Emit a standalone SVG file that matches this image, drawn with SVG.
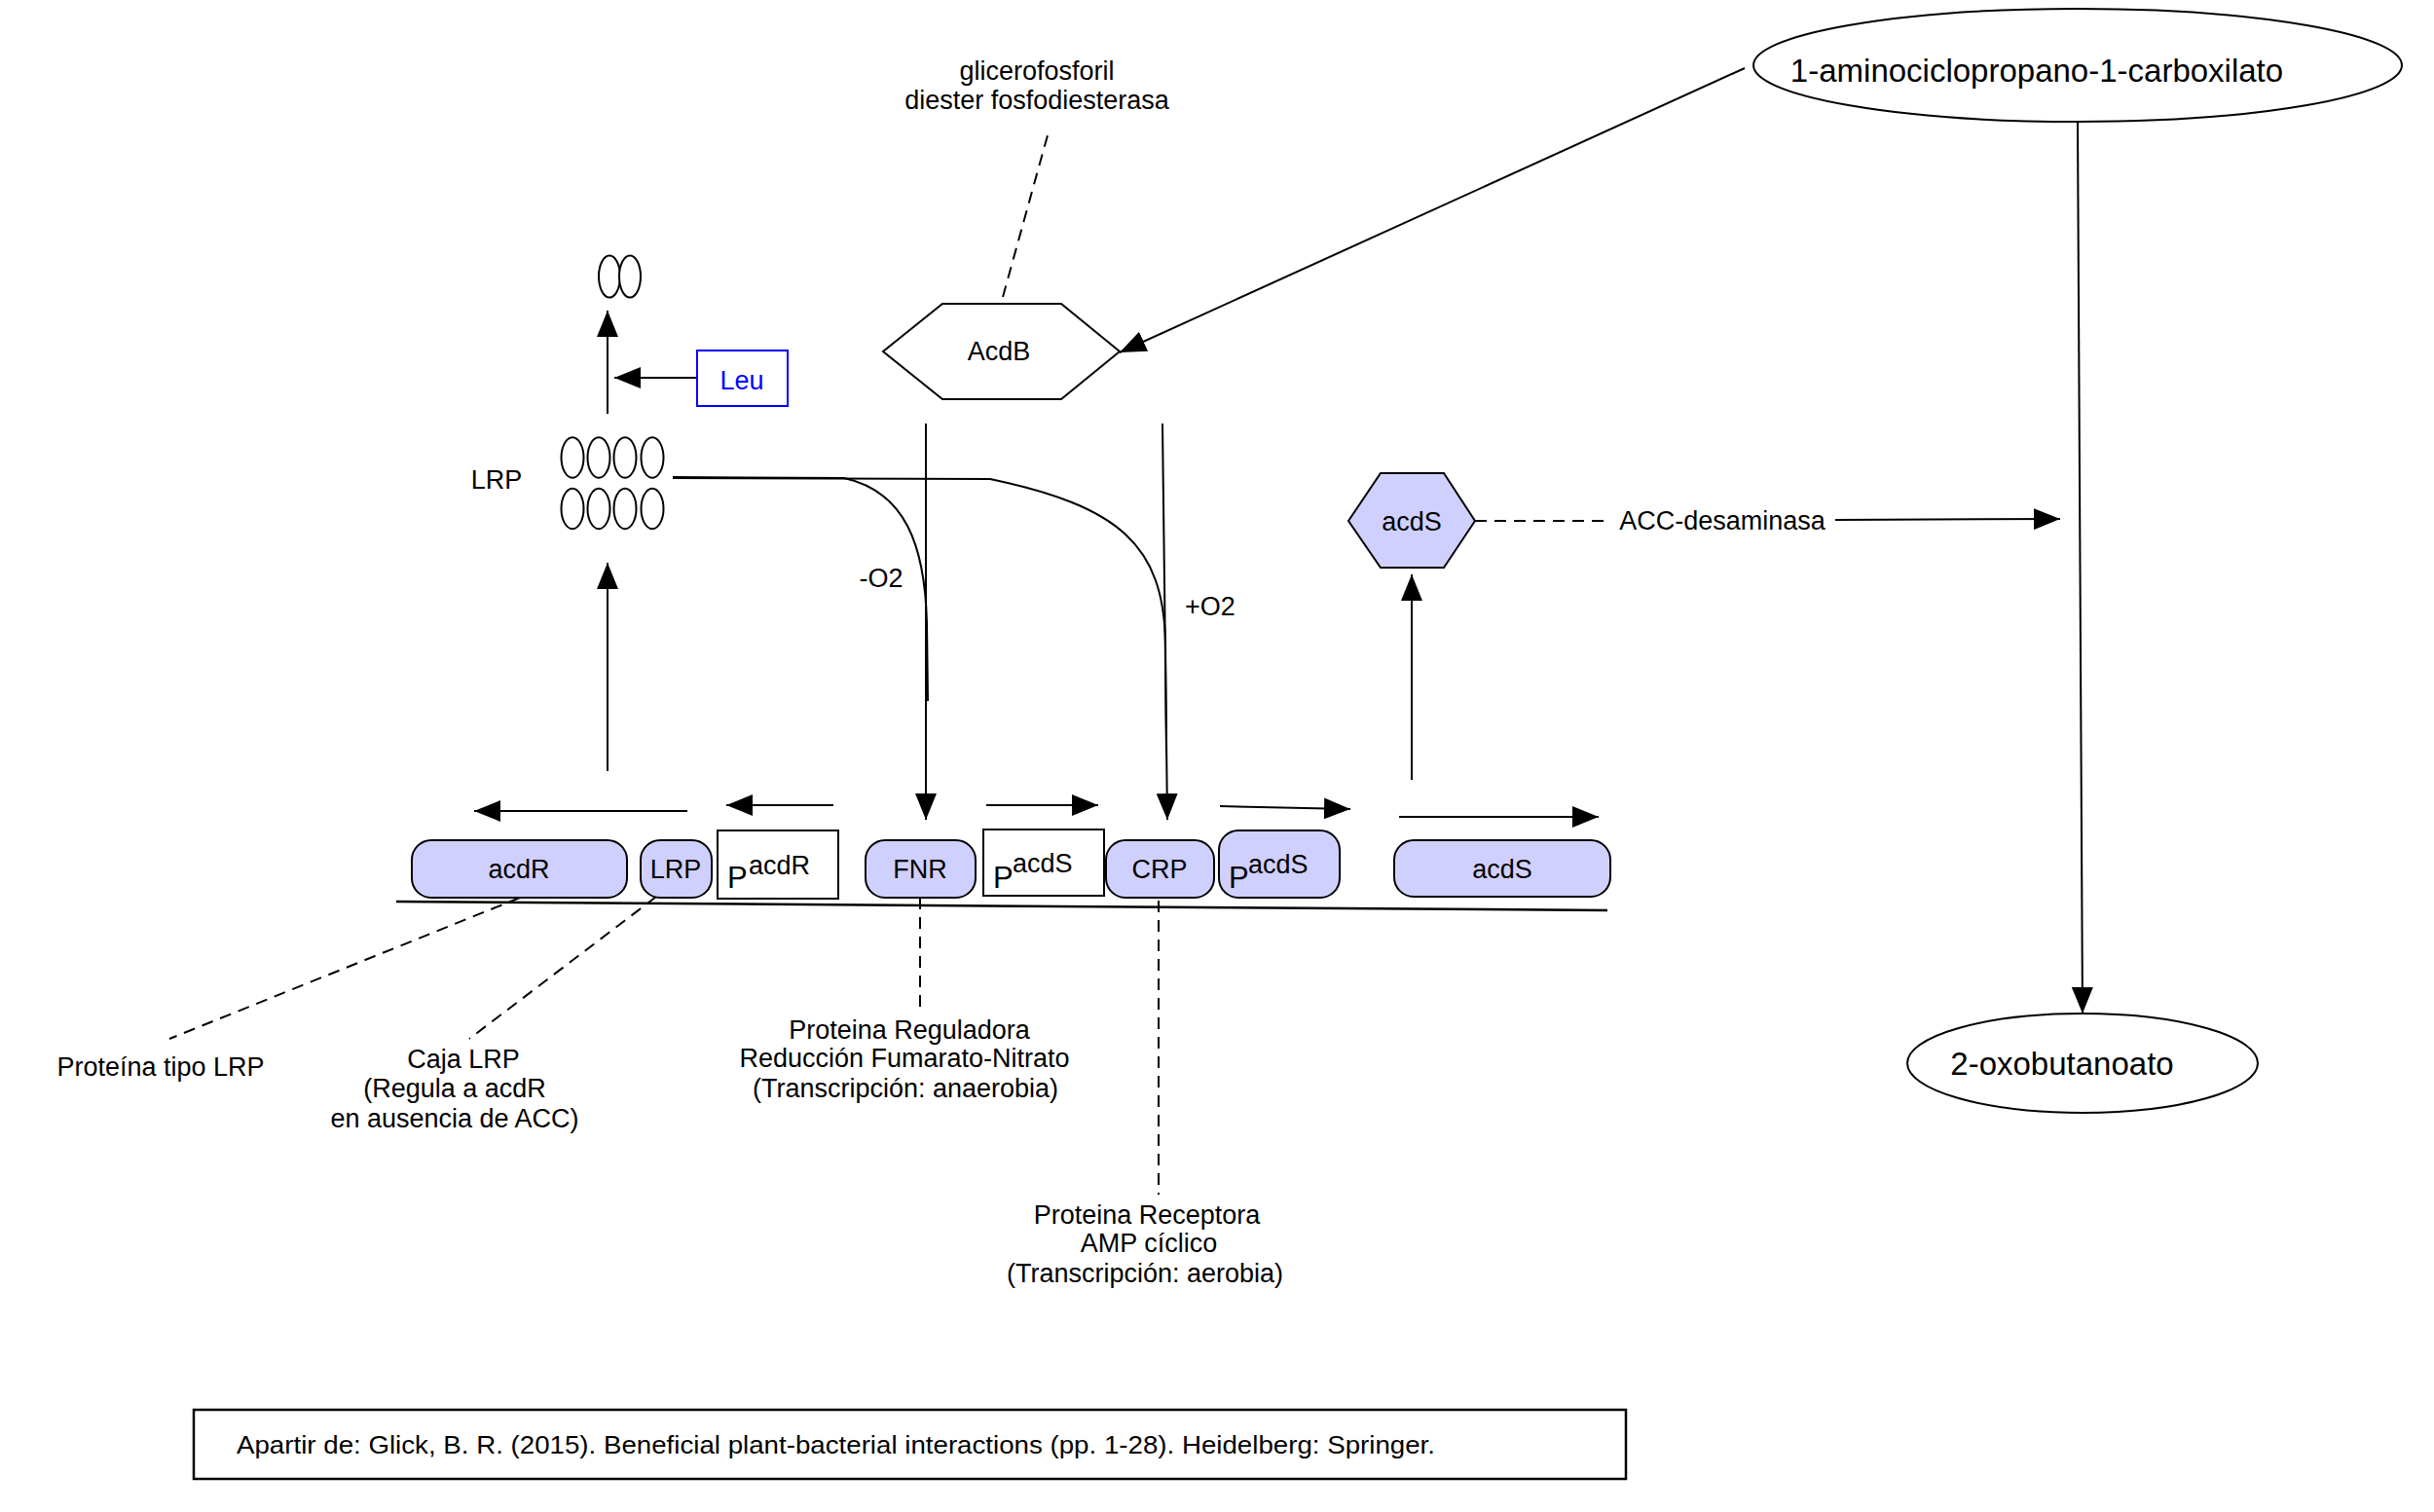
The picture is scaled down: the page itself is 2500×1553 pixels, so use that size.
<svg xmlns="http://www.w3.org/2000/svg" width="2500" height="1553" viewBox="0 0 2500 1553">
<style>
text{font-family:"Liberation Sans",Arial,sans-serif;fill:#000}
.l{font-size:27px;text-anchor:middle}
.big{font-size:33px}
.ln{fill:none;stroke:#000;stroke-width:2}
.dash{fill:none;stroke:#000;stroke-width:2;stroke-dasharray:12,8}
.gene{fill:#d0d0ff;stroke:#000;stroke-width:2}
.box{fill:#fff;stroke:#000;stroke-width:2}
.ov{fill:#fff;stroke:#000;stroke-width:2}
</style>
<defs>
<marker id="ah" markerUnits="userSpaceOnUse" markerWidth="28" markerHeight="22" refX="27" refY="11" orient="auto">
<path d="M0,0 L27,11 L0,22 z" fill="#000"/>
</marker>
</defs>
<rect width="2500" height="1553" fill="#fff"/>

<g id="connectors">
<line class="ln" x1="1792" y1="70" x2="1150" y2="362" marker-end="url(#ah)"/>
<line class="ln" x1="2134" y1="126" x2="2139" y2="1041" marker-end="url(#ah)"/>
<line class="dash" x1="1030" y1="305" x2="1076" y2="139"/>
<line class="ln" x1="716" y1="388" x2="631" y2="388" marker-end="url(#ah)"/>
<line class="ln" x1="624" y1="425" x2="624" y2="319" marker-end="url(#ah)"/>
<line class="ln" x1="624" y1="792" x2="624" y2="578" marker-end="url(#ah)"/>
<path class="ln" d="M691,490 L867,491 C930,505 950,560 952,640 L953,720"/>
<path class="ln" d="M691,491 L1017,492 C1150,520 1195,560 1197,660 L1198,775"/>
<line class="ln" x1="951" y1="435" x2="951" y2="842" marker-end="url(#ah)"/>
<line class="ln" x1="1194" y1="435" x2="1199" y2="842" marker-end="url(#ah)"/>
<line class="ln" x1="706" y1="833" x2="487" y2="833" marker-end="url(#ah)"/>
<line class="ln" x1="856" y1="827" x2="746" y2="827" marker-end="url(#ah)"/>
<line class="ln" x1="1013" y1="827" x2="1128" y2="827" marker-end="url(#ah)"/>
<line class="ln" x1="1253" y1="828" x2="1387" y2="831" marker-end="url(#ah)"/>
<line class="ln" x1="1437" y1="839" x2="1642" y2="839" marker-end="url(#ah)"/>
<line class="ln" x1="1450" y1="801" x2="1450" y2="590" marker-end="url(#ah)"/>
<line class="dash" x1="1515" y1="535" x2="1655" y2="535"/>
<line class="ln" x1="1885" y1="534" x2="2116" y2="533" marker-end="url(#ah)"/>
<line class="ln" x1="407" y1="926" x2="1651" y2="935" style="stroke-width:2.5"/>
<line class="dash" x1="534" y1="922" x2="174" y2="1067"/>
<line class="dash" x1="674" y1="921" x2="482" y2="1067"/>
<line class="dash" x1="945" y1="922" x2="945" y2="1037"/>
<line class="dash" x1="1190" y1="925" x2="1190" y2="1227"/>
</g>

<g id="acc">
<ellipse class="ov" cx="2134" cy="67" rx="333" ry="58"/>
<text class="big" x="2092" y="84" text-anchor="middle">1-aminociclopropano-1-carboxilato</text>
</g>
<g id="oxobutanoato">
<ellipse class="ov" cx="2139" cy="1092" rx="180" ry="51"/>
<text class="big" x="2118" y="1104" text-anchor="middle">2-oxobutanoato</text>
</g>
<g id="glicero">
<text class="l" x="1065" y="82">glicerofosforil</text>
<text class="l" x="1065" y="112">diester fosfodiesterasa</text>
</g>
<g id="AcdB">
<polygon class="box" points="907,361 968,312 1090,312 1150,361 1090,410 968,410"/>
<text class="l" x="1026" y="370">AcdB</text>
</g>
<g id="Leu">
<rect x="716" y="360" width="93" height="57" fill="#fff" stroke="#0000ff" stroke-width="2"/>
<text class="l" x="762" y="400" style="fill:#0000ff">Leu</text>
</g>
<g id="dimer">
<ellipse class="ov" cx="626" cy="284" rx="11" ry="21.5"/>
<ellipse class="ov" cx="647" cy="284" rx="11" ry="21.5"/>
</g>
<g id="octamer">
<ellipse class="ov" cx="588" cy="470" rx="11.5" ry="20.7"/>
<ellipse class="ov" cx="615" cy="470" rx="11.5" ry="20.7"/>
<ellipse class="ov" cx="642" cy="470" rx="11.5" ry="20.7"/>
<ellipse class="ov" cx="670" cy="470" rx="11.5" ry="20.7"/>
<ellipse class="ov" cx="588" cy="522.5" rx="11.5" ry="20.7"/>
<ellipse class="ov" cx="615" cy="522.5" rx="11.5" ry="20.7"/>
<ellipse class="ov" cx="642" cy="522.5" rx="11.5" ry="20.7"/>
<ellipse class="ov" cx="670" cy="522.5" rx="11.5" ry="20.7"/>
<text class="l" x="510" y="502">LRP</text>
</g>
<g id="o2labels">
<text class="l" x="905" y="603">-O2</text>
<text class="l" x="1243" y="632">+O2</text>
</g>
<g id="acdS-protein">
<polygon class="gene" points="1385,535 1418,486 1483,486 1515,535 1483,583 1418,583"/>
<text class="l" x="1450" y="545">acdS</text>
</g>
<g id="acc-desaminasa">
<text class="l" x="1769" y="544">ACC-desaminasa</text>
</g>

<g id="gene-acdR">
<rect class="gene" x="423" y="863" width="221" height="59" rx="20"/>
<text class="l" x="533" y="902">acdR</text>
</g>
<g id="gene-LRP">
<rect class="gene" x="658" y="863" width="73" height="59" rx="20"/>
<text class="l" x="694" y="902">LRP</text>
</g>
<g id="PacdR">
<rect class="box" x="737" y="853" width="124" height="70"/>
<text x="747" y="912" style="font-size:31px">P</text>
<text x="769" y="898" style="font-size:27px">acdR</text>
</g>
<g id="gene-FNR">
<rect class="gene" x="889" y="863" width="113" height="59" rx="20"/>
<text class="l" x="945" y="902">FNR</text>
</g>
<g id="PacdS1">
<rect class="box" x="1010" y="852" width="124" height="68"/>
<text x="1020" y="912" style="font-size:31px">P</text>
<text x="1040" y="896" style="font-size:27px">acdS</text>
</g>
<g id="gene-CRP">
<rect class="gene" x="1136" y="863" width="111" height="59" rx="20"/>
<text class="l" x="1191" y="902">CRP</text>
</g>
<g id="PacdS2">
<rect class="gene" x="1252" y="853" width="124" height="69" rx="20"/>
<text x="1262" y="912" style="font-size:31px">P</text>
<text x="1282" y="897" style="font-size:27px">acdS</text>
</g>
<g id="gene-acdS">
<rect class="gene" x="1432" y="863" width="222" height="58" rx="20"/>
<text class="l" x="1543" y="902">acdS</text>
</g>

<g id="note-lrp-protein">
<text class="l" x="165" y="1105">Proteína tipo LRP</text>
</g>
<g id="note-caja">
<text class="l" x="476" y="1097">Caja LRP</text>
<text class="l" x="467" y="1127">(Regula a acdR</text>
<text class="l" x="467" y="1158">en ausencia de ACC)</text>
</g>
<g id="note-fnr">
<text class="l" x="934" y="1067">Proteina Reguladora</text>
<text class="l" x="929" y="1096">Reducción Fumarato-Nitrato</text>
<text class="l" x="930" y="1127">(Transcripción: anaerobia)</text>
</g>
<g id="note-crp">
<text class="l" x="1178" y="1257">Proteina Receptora</text>
<text class="l" x="1180" y="1286">AMP cíclico</text>
<text class="l" x="1176" y="1317">(Transcripción: aerobia)</text>
</g>
<g id="footer">
<rect x="199" y="1448" width="1471" height="71" fill="#fff" stroke="#000" stroke-width="2.5"/>
<text x="243" y="1493" style="font-size:26px" textLength="1231" lengthAdjust="spacingAndGlyphs">Apartir de: Glick, B. R. (2015). Beneficial plant-bacterial interactions (pp. 1-28). Heidelberg: Springer.</text>
</g>
</svg>
